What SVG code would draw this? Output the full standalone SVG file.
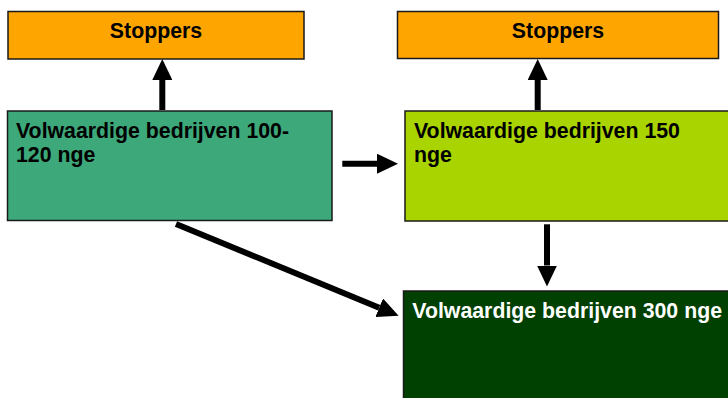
<svg xmlns="http://www.w3.org/2000/svg" width="728" height="398" viewBox="0 0 728 398">
<style>
.box{stroke:#1a1a1a;stroke-width:1.5}
.t{font-family:"Liberation Sans",Arial,sans-serif;font-weight:bold;font-size:21.3px;fill:#000}
.w{fill:#fff}
.c{stroke:#000;stroke-width:6;fill:none}
</style>
<defs>
<marker id="ah" markerUnits="userSpaceOnUse" markerWidth="22" markerHeight="20" refX="0" refY="10" orient="auto" viewBox="0 0 22 20">
<path d="M0,0 L21,10 L0,20 Z" fill="#000"/>
</marker>
</defs>
<rect width="728" height="398" fill="#fff"/>
<g id="connectors">
<line class="c" x1="162.3" y1="110" x2="162.3" y2="80" marker-end="url(#ah)"/>
<line class="c" x1="537.7" y1="110" x2="537.7" y2="80" marker-end="url(#ah)"/>
<line class="c" x1="342.3" y1="163.7" x2="377" y2="163.7" marker-end="url(#ah)"/>
<line class="c" x1="547" y1="224.3" x2="547" y2="265.5" marker-end="url(#ah)"/>
<line class="c" x1="176" y1="224" x2="379.2" y2="307.7" marker-end="url(#ah)"/>
</g>
<g id="stoppers1">
<rect class="box" x="8" y="11.5" width="296" height="47.5" fill="#FFA500"/>
<text class="t" x="156" y="37.5" text-anchor="middle">Stoppers</text>
</g>
<g id="stoppers2">
<rect class="box" x="397.5" y="11.5" width="321" height="47" fill="#FFA500"/>
<text class="t" x="558" y="37.5" text-anchor="middle">Stoppers</text>
</g>
<g id="bedrijven100">
<rect class="box" x="7.5" y="111" width="324.5" height="109.5" fill="#3DA87A"/>
<text class="t" x="16" y="138">Volwaardige bedrijven 100-</text>
<text class="t" x="16" y="162">120 nge</text>
</g>
<g id="bedrijven150">
<rect class="box" x="405" y="111" width="330" height="110" fill="#AAD400"/>
<text class="t" x="414" y="138">Volwaardige bedrijven 150</text>
<text class="t" x="414" y="162">nge</text>
</g>
<g id="bedrijven300">
<rect class="box" x="403.5" y="291" width="330" height="115" fill="#004000"/>
<text class="t w" x="412.3" y="318">Volwaardige bedrijven 300 nge</text>
</g>
</svg>
